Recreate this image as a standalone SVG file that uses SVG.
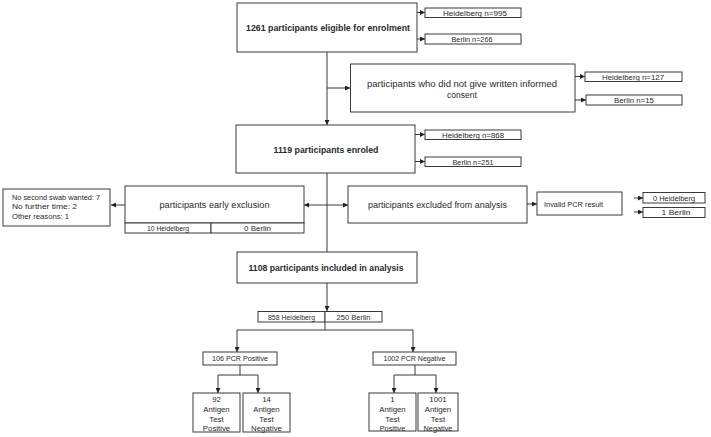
<svg xmlns="http://www.w3.org/2000/svg" width="711" height="437" viewBox="0 0 711 437">
<style>
  .box { fill: #ffffff; stroke: #3a3a3a; stroke-width: 1; }
  .ln { fill: none; stroke: #3a3a3a; stroke-width: 1; }
  .arr { fill: none; stroke: #3a3a3a; stroke-width: 1; marker-end: url(#ah); }
  text { font-family: "Liberation Sans", Arial, sans-serif; fill: #2a2a2a; }
  .b { font-size: 9.5px; font-weight: bold; text-anchor: middle; }
  .m { font-size: 8.5px; text-anchor: middle; }
  .s { font-size: 6.8px; text-anchor: middle; }
  .l { font-size: 7.5px; }
  .t { font-size: 7.8px; text-anchor: middle; }
</style>
<defs>
  <marker id="ah" viewBox="0 0 6 6" refX="6" refY="3" markerWidth="5" markerHeight="5" orient="auto" markerUnits="userSpaceOnUse">
    <path d="M0,0 L6,3 L0,6 z" fill="#222222"/>
  </marker>
</defs>
<rect width="711" height="437" fill="#ffffff"/>

<g id="connectors">
  <path class="arr" d="M417,12.5 H425"/>
  <path class="arr" d="M417,39 H425"/>
  <path class="arr" d="M327,52 V125"/>
  <path class="arr" d="M327,88 H350"/>
  <path class="arr" d="M575,76.5 H585"/>
  <path class="arr" d="M575,100 H586"/>
  <path class="arr" d="M415,134.5 H425"/>
  <path class="arr" d="M415,161.5 H425"/>
  <path class="ln" d="M327,173 V252"/>
  <path class="arr" d="M327,205 H304"/>
  <path class="arr" d="M327,205 H348"/>
  <path class="arr" d="M125,205 H111"/>
  <path class="arr" d="M527,204 H537"/>
  <path class="arr" d="M634,198 H643"/>
  <path class="arr" d="M634,212 H643"/>
  <path class="arr" d="M327,283 V311"/>
  <path class="ln" d="M325,322 V330 M237,330 H413"/>
  <path class="arr" d="M237,330 V352"/>
  <path class="arr" d="M413,330 V352"/>
  <path class="ln" d="M240,365 V375 M218,375 H258"/>
  <path class="arr" d="M218,375 V393"/>
  <path class="arr" d="M258,375 V393"/>
  <path class="ln" d="M415,365 V375 M394,375 H436"/>
  <path class="arr" d="M394,375 V393"/>
  <path class="arr" d="M436,375 V393"/>
</g>

<g id="eligible">
  <rect class="box" x="237" y="3" width="180" height="49"/>
  <text class="b" x="328" y="30.5" textLength="164" lengthAdjust="spacingAndGlyphs">1261  participants eligible for enrolment</text>
</g>
<g id="eligible-heidelberg">
  <rect class="box" x="425" y="8" width="96" height="9.5"/>
  <text class="s" x="475" y="15.5" textLength="64" lengthAdjust="spacingAndGlyphs">Heidelberg  n=995</text>
</g>
<g id="eligible-berlin">
  <rect class="box" x="425" y="34" width="96" height="10"/>
  <text class="s" x="472" y="41.7" textLength="41" lengthAdjust="spacingAndGlyphs">Berlin n=266</text>
</g>

<g id="no-consent">
  <rect class="box" x="350.5" y="64" width="224.5" height="48"/>
  <text class="m" x="462" y="86.5" textLength="190" lengthAdjust="spacingAndGlyphs">participants who did not give written informed</text>
  <text class="m" x="462" y="97.5">consent</text>
</g>
<g id="no-consent-heidelberg">
  <rect class="box" x="585" y="72" width="97" height="9.5"/>
  <text class="s" x="633" y="79.5" textLength="62" lengthAdjust="spacingAndGlyphs">Heidelberg  n=127</text>
</g>
<g id="no-consent-berlin">
  <rect class="box" x="586" y="95" width="96" height="10"/>
  <text class="s" x="634" y="102.8" textLength="40" lengthAdjust="spacingAndGlyphs">Berlin  n=15</text>
</g>

<g id="enroled">
  <rect class="box" x="236" y="125" width="179" height="48"/>
  <text class="b" x="326" y="152.5" textLength="105" lengthAdjust="spacingAndGlyphs">1119 participants enroled</text>
</g>
<g id="enroled-heidelberg">
  <rect class="box" x="425" y="130" width="96" height="9.5"/>
  <text class="s" x="473" y="137.5" textLength="62" lengthAdjust="spacingAndGlyphs">Heidelberg  n=868</text>
</g>
<g id="enroled-berlin">
  <rect class="box" x="425" y="157" width="96" height="9.5"/>
  <text class="s" x="473" y="164.5" textLength="41" lengthAdjust="spacingAndGlyphs">Berlin  n=251</text>
</g>

<g id="reasons">
  <rect class="box" x="3" y="189" width="107" height="37"/>
  <text class="l" x="12" y="200" textLength="88" lengthAdjust="spacingAndGlyphs">No second swab wanted: 7</text>
  <text class="l" x="12" y="209.3" textLength="65" lengthAdjust="spacingAndGlyphs">No further time: 2</text>
  <text class="l" x="12" y="218.6" textLength="57" lengthAdjust="spacingAndGlyphs">Other reasons: 1</text>
</g>

<g id="early-exclusion">
  <rect class="box" x="125" y="186" width="179" height="37"/>
  <text class="m" x="214.5" y="208" textLength="110" lengthAdjust="spacingAndGlyphs">participants early exclusion</text>
  <rect class="box" x="125" y="223" width="86" height="10"/>
  <rect class="box" x="211" y="223" width="93" height="10"/>
  <text class="s" x="168" y="230.8" textLength="42" lengthAdjust="spacingAndGlyphs">10 Heidelberg</text>
  <text class="s" x="257.5" y="230.8" textLength="27" lengthAdjust="spacingAndGlyphs">0 Berlin</text>
</g>

<g id="excluded-analysis">
  <rect class="box" x="348" y="186" width="179" height="37"/>
  <text class="m" x="437.5" y="208" textLength="139" lengthAdjust="spacingAndGlyphs">participants excluded from analysis</text>
</g>
<g id="invalid-pcr">
  <rect class="box" x="537" y="192" width="85" height="23"/>
  <text class="l" x="544" y="206.5" style="font-size:6.6px" textLength="59" lengthAdjust="spacingAndGlyphs">Invalid PCR result</text>
</g>
<g id="invalid-heidelberg">
  <rect class="box" x="643" y="192.5" width="62" height="10.5"/>
  <text class="s" x="674" y="200.8" textLength="42" lengthAdjust="spacingAndGlyphs">0 Heidelberg</text>
</g>
<g id="invalid-berlin">
  <rect class="box" x="643" y="207.5" width="62" height="10"/>
  <text class="s" x="676" y="215.3" textLength="29" lengthAdjust="spacingAndGlyphs">1 Berlin</text>
</g>

<g id="included">
  <rect class="box" x="237" y="252" width="180" height="31"/>
  <text class="b" x="326" y="271" textLength="155" lengthAdjust="spacingAndGlyphs">1108  participants included in analysis</text>
</g>
<g id="included-split">
  <rect class="box" x="258" y="311.5" width="67" height="10.5"/>
  <rect class="box" x="325" y="311.5" width="57" height="10.5"/>
  <text class="s" x="291.5" y="319.6" textLength="47" lengthAdjust="spacingAndGlyphs">858 Heidelberg</text>
  <text class="s" x="353.5" y="319.6" textLength="34" lengthAdjust="spacingAndGlyphs">250 Berlin</text>
</g>

<g id="pcr-positive">
  <rect class="box" x="203" y="352" width="74" height="13"/>
  <text class="s" x="240" y="361.3" textLength="56" lengthAdjust="spacingAndGlyphs">106 PCR Positive</text>
</g>
<g id="pcr-negative">
  <rect class="box" x="373" y="352" width="83" height="13"/>
  <text class="s" x="414.5" y="361.3" textLength="62" lengthAdjust="spacingAndGlyphs">1002 PCR Negative</text>
</g>

<g id="pos-antigen-pos">
  <rect class="box" x="193" y="393" width="47" height="39"/>
  <text class="t" x="216.5" y="402">92</text>
  <text class="t" x="216.5" y="412">Antigen</text>
  <text class="t" x="216.5" y="421.5">Test</text>
  <text class="t" x="216.5" y="431">Positive</text>
</g>
<g id="pos-antigen-neg">
  <rect class="box" x="243" y="393" width="47" height="39"/>
  <text class="t" x="266.5" y="402">14</text>
  <text class="t" x="266.5" y="412">Antigen</text>
  <text class="t" x="266.5" y="421.5">Test</text>
  <text class="t" x="266.5" y="431">Negative</text>
</g>
<g id="neg-antigen-pos">
  <rect class="box" x="369" y="393" width="47" height="38"/>
  <text class="t" x="392.5" y="402">1</text>
  <text class="t" x="392.5" y="412">Antigen</text>
  <text class="t" x="392.5" y="421.5">Test</text>
  <text class="t" x="392.5" y="431" style="font-size:7.3px">Positive</text>
</g>
<g id="neg-antigen-neg">
  <rect class="box" x="418" y="393" width="40" height="38"/>
  <text class="t" x="438" y="402">1001</text>
  <text class="t" x="438" y="412">Antigen</text>
  <text class="t" x="438" y="421.5">Test</text>
  <text class="t" x="438" y="431" style="font-size:7.3px">Negative</text>
</g>
</svg>
